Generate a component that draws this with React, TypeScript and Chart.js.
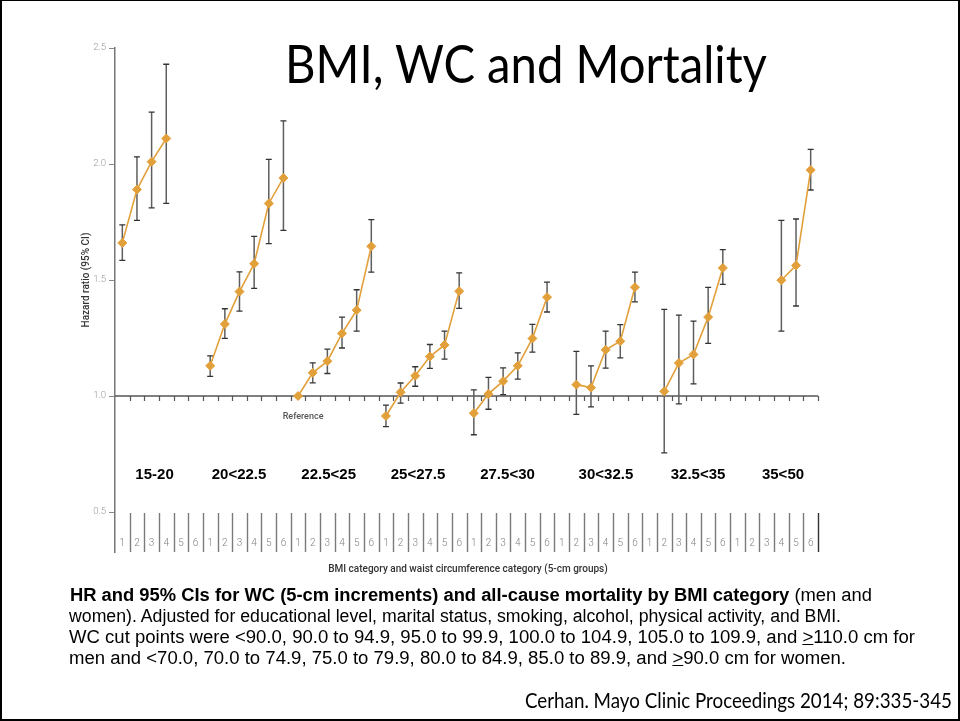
import React, { useEffect, useLayoutEffect, useRef } from 'react';
import { Chart, registerables } from 'chart.js';
Chart.register(...registerables);

// ---------- data ----------
const bmiCategories = ['15-20', '20<22.5', '22.5<25', '25<27.5', '27.5<30', '30<32.5', '32.5<35', '35<50'];
const wcLabels = ['1', '2', '3', '4', '5', '6'];
const yTickValues = [0.5, 1.0, 1.5, 2.0, 2.5];
// first waist-circumference category (1-6) estimated within each BMI category
const firstWc = [1, 1, 1, 1, 1, 2, 2, 4];

const hr15_20 = [1.66, 1.89, 2.01, 2.11];
const lo15_20 = [1.585, 1.757, 1.811, 1.83];
const hi15_20 = [1.738, 2.031, 2.224, 2.43];

const hr20_225 = [1.13, 1.31, 1.45, 1.57, 1.83, 1.94];
const lo20_225 = [1.085, 1.248, 1.366, 1.464, 1.657, 1.714];
const hi20_225 = [1.173, 1.376, 1.535, 1.688, 2.02, 2.186];

const hr225_25 = [1.0, 1.10, 1.15, 1.27, 1.37, 1.645];
const lo225_25 = [null, 1.057, 1.097, 1.207, 1.28, 1.534];
const hi225_25 = [null, 1.143, 1.202, 1.34, 1.458, 1.76];

const hr25_275 = [0.914, 1.016, 1.087, 1.17, 1.22, 1.452];
const lo25_275 = [0.868, 0.969, 1.042, 1.119, 1.159, 1.378];
const hi25_275 = [0.961, 1.056, 1.126, 1.222, 1.28, 1.531];

const hr275_30 = [0.926, 1.009, 1.064, 1.13, 1.248, 1.426];
const lo275_30 = [0.833, 0.943, 1.006, 1.073, 1.189, 1.362];
const hi275_30 = [1.026, 1.08, 1.121, 1.186, 1.309, 1.491];

const hr30_325 = [1.049, 1.036, 1.199, 1.236, 1.469];
const lo30_325 = [0.921, 0.953, 1.12, 1.164, 1.406];
const hi30_325 = [1.192, 1.13, 1.28, 1.308, 1.534];

const hr325_35 = [1.02, 1.142, 1.179, 1.34, 1.552];
const lo325_35 = [0.755, 0.966, 1.052, 1.227, 1.481];
const hi325_35 = [1.373, 1.349, 1.323, 1.468, 1.631];

const hr35_50 = [1.499, 1.563, 1.974];
const lo35_50 = [1.28, 1.388, 1.888];
const hi35_50 = [1.757, 1.763, 2.063];

const hrGroups = [hr15_20, hr20_225, hr225_25, hr25_275, hr275_30, hr30_325, hr325_35, hr35_50];
const loGroups = [lo15_20, lo20_225, lo225_25, lo25_275, lo275_30, lo30_325, lo325_35, lo35_50];
const hiGroups = [hi15_20, hi20_225, hi225_25, hi25_275, hi275_30, hi30_325, hi325_35, hi35_50];

// layout: where each BMI label sits, in slot units
const bmiLabelSlot = [3.2, 8.97, 15.09, 21.19, 27.3, 34.02, 40.31, 46.11];

const ORANGE = '#E2A03B';

const overlay = {
  id: 'overlay',
  beforeDatasetsDraw(chart: any) {
    const { ctx, chartArea: ca, scales } = chart;
    const x = scales.x, y = scales.y;
    ctx.save();
    // reference line at HR 1.0
    const y1 = y.getPixelForValue(1.0);
    const xEnd = x.getPixelForValue(48.5);
    ctx.strokeStyle = '#555';
    ctx.lineWidth = 1.5;
    ctx.beginPath();
    ctx.moveTo(ca.left, y1);
    ctx.lineTo(xEnd, y1);
    ctx.stroke();
    ctx.lineWidth = 1.2;
    ctx.beginPath();
    for (let k = 1; k <= 48; k++) {
      const xp = Math.round(x.getPixelForValue(k + 0.5)) + 0.5;
      ctx.moveTo(xp, y1);
      ctx.lineTo(xp, y1 + 5);
    }
    ctx.stroke();
    // error bars
    hrGroups.forEach((hr, g) => {
      hr.forEach((_v, j) => {
        const lo = loGroups[g][j];
        const hi = hiGroups[g][j];
        if (lo == null || hi == null) return;
        const xp = x.getPixelForValue(g * 6 + firstWc[g] + j);
        const yl = y.getPixelForValue(lo);
        const yh = y.getPixelForValue(hi);
        ctx.strokeStyle = '#5e5e5e';
        ctx.lineWidth = 1.5;
        ctx.beginPath();
        ctx.moveTo(xp, yl);
        ctx.lineTo(xp, yh);
        ctx.stroke();
        ctx.strokeStyle = '#333';
        ctx.lineWidth = 1.3;
        ctx.beginPath();
        ctx.moveTo(xp - 3, yl);
        ctx.lineTo(xp + 3, yl);
        ctx.moveTo(xp - 3, yh);
        ctx.lineTo(xp + 3, yh);
        ctx.stroke();
      });
    });
    ctx.restore();
  },
  afterDraw(chart: any) {
    const { ctx, chartArea: ca, scales } = chart;
    const x = scales.x, y = scales.y;
    ctx.save();
    // "Reference" label
    ctx.fillStyle = '#555';
    ctx.font = '500 9px Roboto';
    ctx.textAlign = 'center';
    ctx.textBaseline = 'middle';
    ctx.fillText('Reference', x.getPixelForValue(13.34), y.getPixelForValue(1.0) + 21);
    // BMI category labels
    ctx.fillStyle = '#000';
    ctx.font = 'bold 15px "Liberation Sans", Arial, sans-serif';
    bmiCategories.forEach((c, g) => {
      ctx.fillText(c, x.getPixelForValue(bmiLabelSlot[g]), y.getPixelForValue(0.67) + 2);
    });
    // bottom band of WC categories
    const bandTop = y.getPixelForValue(0.5) + 1;
    const bandBottom = ca.bottom;
    for (let k = 1; k <= 48; k++) {
      const xp = Math.round(x.getPixelForValue(k + 0.5)) + 0.5;
      ctx.strokeStyle = k === 48 ? '#333' : '#7a7a7a';
      ctx.lineWidth = 1.4;
      ctx.beginPath();
      ctx.moveTo(xp, bandTop);
      ctx.lineTo(xp, bandBottom);
      ctx.stroke();
    }
    ctx.fillStyle = '#808080';
    ctx.font = '300 10px Roboto';
    for (let k = 1; k <= 48; k++) {
      ctx.fillText(wcLabels[(k - 1) % 6], x.getPixelForValue(k), bandBottom - 9);
    }
    // axis titles
    ctx.fillStyle = '#333';
    ctx.font = '500 10px Roboto';
    ctx.fillText('BMI category and waist circumference category (5-cm groups)', 468, bandBottom + 17);
    ctx.translate(86, y.getPixelForValue(1.5));
    ctx.rotate(-Math.PI / 2);
    ctx.fillText('Hazard ratio (95% CI)', 0, 0);
    ctx.restore();
  },
};

function FitText(props: {
  children: React.ReactNode;
  left: number;
  top: number;
  width: number;
  size: number;
  family: string;
  lineHeight?: number;
}) {
  const ref = useRef<HTMLSpanElement>(null);
  useLayoutEffect(() => {
    const fit = () => {
      const el = ref.current;
      if (!el) return;
      el.style.transform = 'none';
      const w = el.getBoundingClientRect().width;
      if (w > 0) el.style.transform = `scaleX(${props.width / w})`;
    };
    fit();
    (document as any).fonts?.ready?.then(fit);
  }, [props.width]);
  return (
    <span
      ref={ref}
      style={{
        position: 'absolute',
        left: props.left,
        top: props.top,
        fontFamily: props.family,
        fontSize: props.size,
        lineHeight: `${props.lineHeight ?? props.size}px`,
        whiteSpace: 'nowrap',
        transformOrigin: 'left top',
        color: '#000',
      }}
    >
      {props.children}
    </span>
  );
}

export default function App() {
  const canvasRef = useRef<HTMLCanvasElement>(null);
  useEffect(() => {
    const canvas = canvasRef.current;
    if (!canvas) return;
    const datasets = hrGroups.map((hr, g) => ({
      label: bmiCategories[g],
      data: hr.map((v, j) => ({ x: g * 6 + firstWc[g] + j, y: v })),
      borderColor: ORANGE,
      backgroundColor: ORANGE,
      borderWidth: 1.6,
      pointStyle: 'rectRot',
      pointRadius: 4.5,
      pointBackgroundColor: ORANGE,
      pointBorderColor: ORANGE,
      pointBorderWidth: 1,
      tension: 0,
      clip: false,
    }));
    const chart = new Chart(canvas, {
      type: 'line',
      data: { datasets } as any,
      options: {
        responsive: false,
        animation: false,
        devicePixelRatio: 1,
        layout: { padding: { left: 75, top: 48, right: 142, bottom: 169 } },
        plugins: { legend: { display: false }, tooltip: { enabled: false }, title: { display: false } },
        scales: {
          x: { type: 'linear', min: 0.5, max: 48.5, display: false },
          y: {
            type: 'linear',
            min: 0.3276,
            max: 2.5,
            afterFit: (s: any) => { s.width = 40; },
            afterBuildTicks: (s: any) => { s.ticks = yTickValues.map((v) => ({ value: v })); },
            ticks: {
              callback: (v: any) => Number(v).toFixed(1),
              color: '#999',
              font: { family: 'Roboto', size: 9.5, weight: '300' as any },
              padding: 3,
            },
            grid: { drawOnChartArea: false, drawTicks: true, tickLength: 6, color: '#888', lineWidth: 1 },
            border: { display: true, color: '#777', width: 1.5 },
          },
        },
      } as any,
      plugins: [overlay],
    });
    return () => chart.destroy();
  }, []);

  const capFamily = '"Liberation Sans", Arial, sans-serif';

  return (
    <div style={{ position: 'absolute', left: 0, top: 0, width: 960, height: 721, background: '#fff', overflow: 'hidden' }}>
      <canvas ref={canvasRef} width={960} height={721} style={{ position: 'absolute', left: 0, top: 0, width: 960, height: 721 }} />
      <FitText left={285} top={36} width={482} size={53} family="Lato, 'Open Sans', sans-serif">
        BMI, WC and Mortality
      </FitText>
      <FitText left={70} top={585} width={802} size={18} lineHeight={20.8} family={capFamily}>
        <b>HR and 95% CIs for WC (5-cm increments) and all-cause mortality by BMI category</b> (men and
      </FitText>
      <FitText left={69} top={606} width={772} size={18} lineHeight={20.8} family={capFamily}>
        women). Adjusted for educational level, marital status, smoking, alcohol, physical activity, and BMI.
      </FitText>
      <FitText left={69} top={627} width={846} size={18} lineHeight={20.8} family={capFamily}>
        WC cut points were &lt;90.0, 90.0 to 94.9, 95.0 to 99.9, 100.0 to 104.9, 105.0 to 109.9, and <u>&gt;</u>110.0 cm for
      </FitText>
      <FitText left={69} top={647.5} width={777} size={18} lineHeight={20.8} family={capFamily}>
        men and &lt;70.0, 70.0 to 74.9, 75.0 to 79.9, 80.0 to 84.9, 85.0 to 89.9, and <u>&gt;</u>90.0 cm for women.
      </FitText>
      <FitText left={525} top={689} width={427} size={21} family="Lato, 'Open Sans', sans-serif">
        Cerhan. Mayo Clinic Proceedings 2014; 89:335-345
      </FitText>
      <div style={{ position: 'absolute', left: 0, top: 0, width: 960, height: 721, boxSizing: 'border-box', borderLeft: '2px solid #000', borderRight: '2px solid #000', borderBottom: '2px solid #000', borderTop: '1px solid #000', pointerEvents: 'none' }} />
    </div>
  );
}
